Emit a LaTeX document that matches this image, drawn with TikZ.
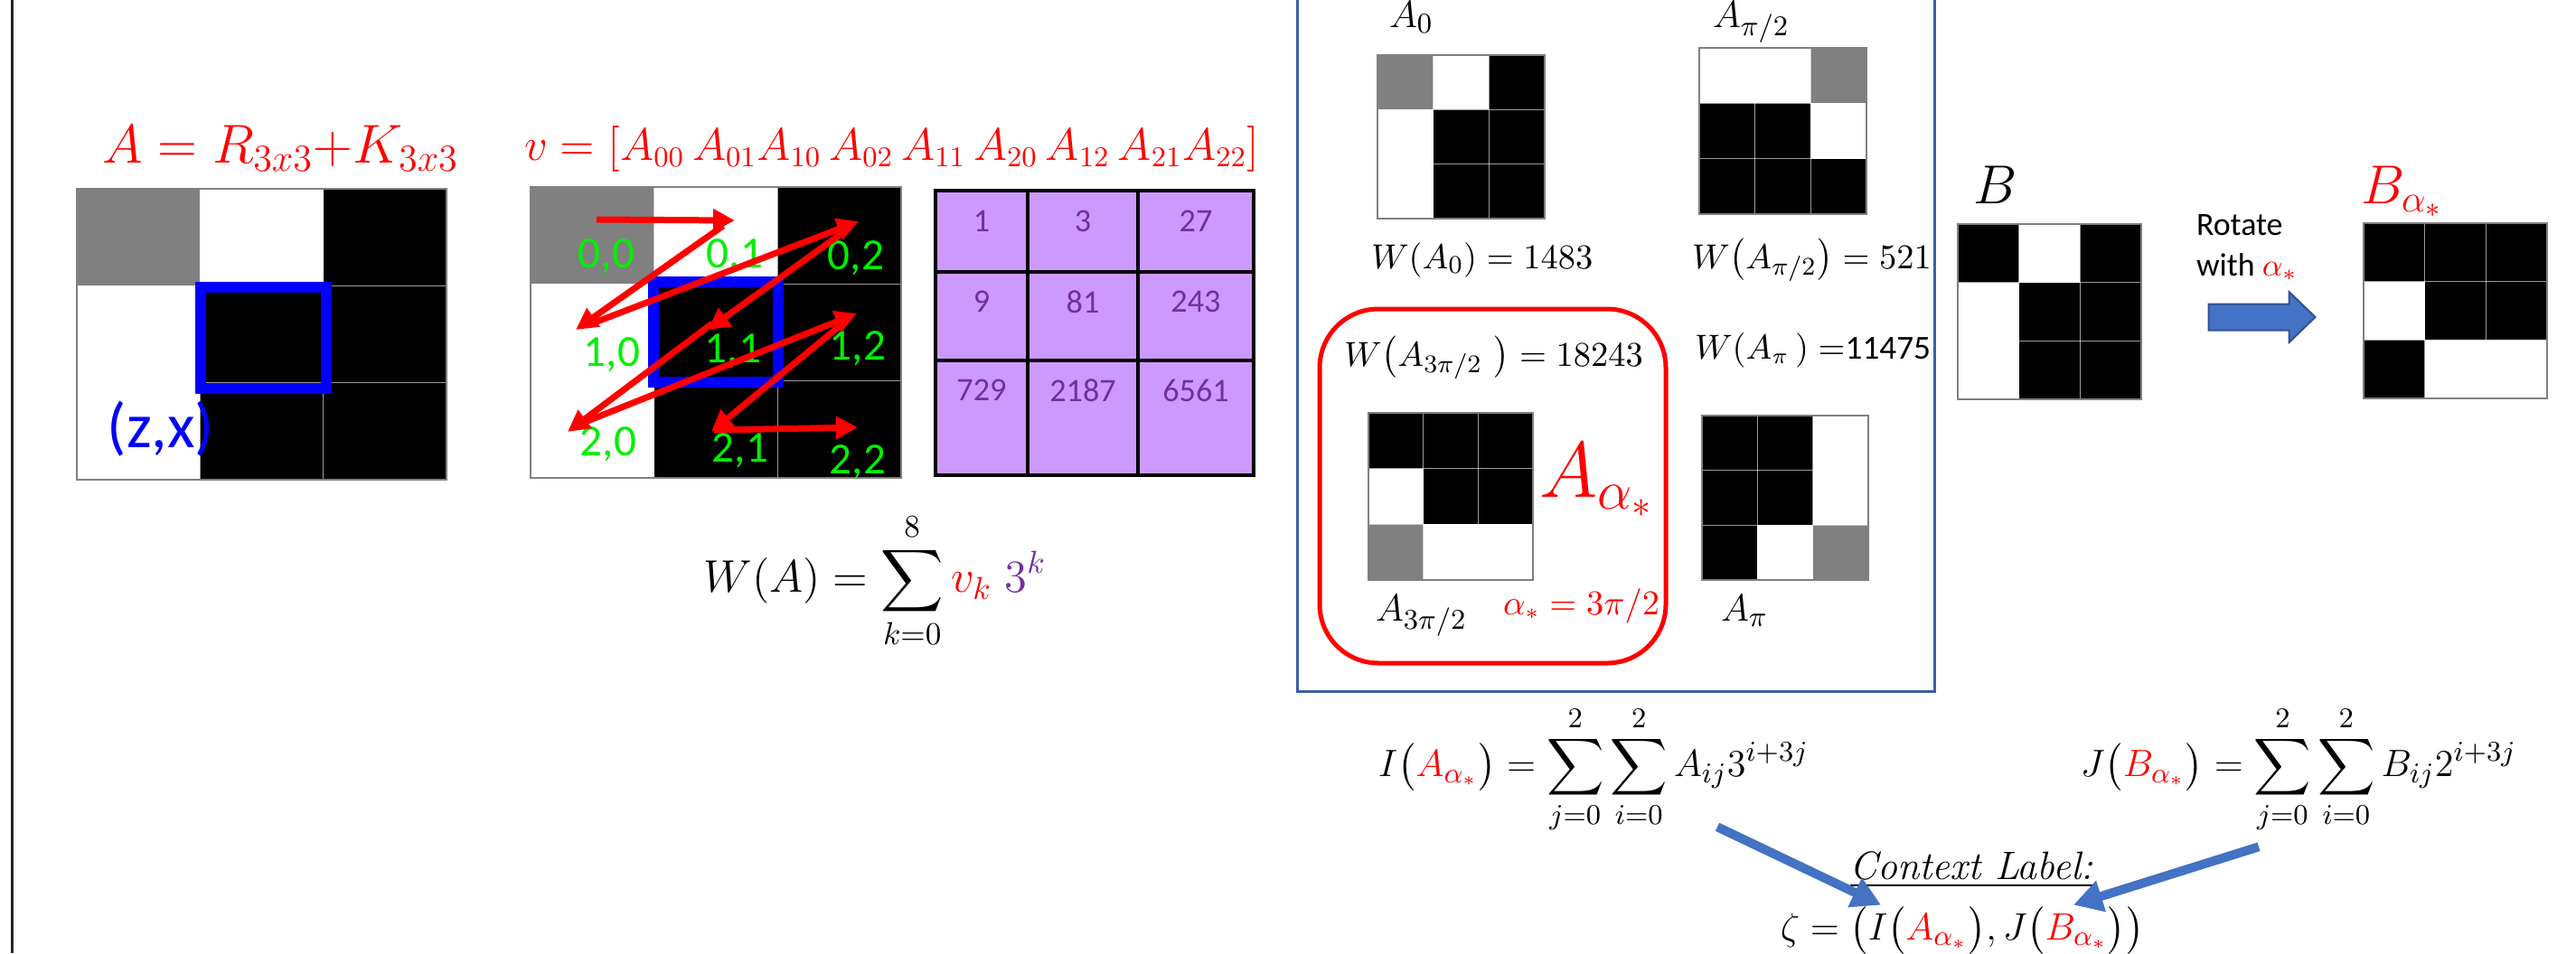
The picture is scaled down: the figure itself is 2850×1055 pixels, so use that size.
\documentclass[tikz,border=0pt]{standalone}
\usepackage{amsmath,amssymb}
\usepackage{fontspec}
\setsansfont{Carlito}
\usetikzlibrary{arrows.meta,calc,shapes.arrows}
\definecolor{zzred}{RGB}{255,0,0}
\definecolor{idxgreen}{RGB}{0,240,0}
\definecolor{selblue}{RGB}{0,0,255}
\definecolor{cellgray}{RGB}{128,128,128}
\definecolor{lilac}{RGB}{204,153,255}
\definecolor{plum}{RGB}{112,48,160}
\definecolor{frameblue}{RGB}{60,95,165}
\definecolor{arrblue}{RGB}{68,114,196}
\definecolor{arrblueedge}{RGB}{47,82,143}
\newcommand{\fsz}[1]{\fontsize{#1}{#1}\selectfont}
% 3x3 pixel image: left, top, width, height, cell colours row by row
\newcommand{\pixgrid}[5]{%
  \foreach \clr [count=\k from 0] in {#5} {
    \pgfmathtruncatemacro{\gc}{mod(\k,3)}
    \pgfmathtruncatemacro{\gr}{\k/3}
    \fill[\clr] ({#1+\gc*#3/3},{#2+\gr*#4/3}) rectangle ++({#3/3},{#4/3});
  }
  \foreach \t in {1,2} {
    \draw[white, opacity=.6, line width=.15mm] ({#1+\t*#3/3},#2) -- ++(0,#4);
    \draw[white, opacity=.6, line width=.15mm] (#1,{#2+\t*#4/3}) -- ++(#3,0);
  }
  \draw[gray, line width=.2mm] (#1,#2) rectangle ++(#3,#4);
}

\begin{document}
\begin{tikzpicture}[x=0.1mm, y=-0.1mm,
	every node/.style={inner sep=0pt, outer sep=0pt},
	zz/.style={zzred, line width=.7mm, -{Triangle[length=2.4mm,width=2.4mm]}},
	flow/.style={arrblue, line width=1mm, -{Triangle[length=3.2mm,width=3.4mm]}},
	idx/.style={idxgreen, font=\sffamily\fsz{14pt}},
	wt/.style={plum, font=\sffamily\fsz{10.3pt}},
	wlab/.style={anchor=base west, font=\fsz{11pt}},
	alab/.style={anchor=base west, font=\fsz{13pt}},
	big/.style={anchor=base west, font=\fsz{18pt}}
	]
	
	\useasboundingbox (0,0) rectangle (2850,1055);
	\fill[white] (0,0) rectangle (2850,1055);
	\draw[line width=.3mm, black!85] (13,0) -- (13,1055);
	
	% the matrix A
	\node[anchor=base west, zzred, font=\fsz{16.5pt}] (titleA) at (113,180) {$A = R_{3x3}{+}K_{3x3}$};
	\pixgrid{85}{209}{409}{322}{cellgray,white,black,white,black,black,white,black,black}
	\draw[selblue, line width=1.2mm] (222,318) rectangle (361,430);
	\node[selblue, font=\sffamily\fsz{20pt}] (zx) at (178,475) {(z,x)};
	
	% scan order
	\node[anchor=base west, zzred, font=\fsz{13.4pt}] (titlev) at (580,177)
		{$v = [A_{00}\,A_{01}A_{10}\,A_{02}\,A_{11}\,A_{20}\,A_{12}\,A_{21}A_{22}]$};
	\pixgrid{587}{207}{410}{322}{cellgray,white,black,white,black,black,white,black,black}
	\draw[selblue, line width=1.2mm] (723,312) rectangle (861,423);
	\foreach \r/\s/\x/\y in {0/0/671/284, 0/1/813/284, 0/2/947/286,
		1/0/677/393, 1/1/811/389, 1/2/949/386,
		2/0/673/492, 2/1/819/499, 2/2/949/512}
		\node[idx] (i\r\s) at (\x,\y) {\r,\s};
	\foreach \n/\x/\y in {a1/660/243, b1/813/244, a2/800/250, b2/637/365,
		a3/650/360, b3/950/245, a4/940/252, b4/783/365,
		a5/788/358, b5/628/478, a6/645/468, b6/948/347,
		a7/936/355, b7/787/478, a8/790/476, b8/949/473}
		\coordinate (\n) at (\x,\y);
	\foreach \k in {1,...,8}
		\draw[zz] (a\k) -- (b\k);
	
	% weights
	\fill[lilac] (1035,211) rectangle (1387,526);
	\draw[line width=.35mm] (1035,211) rectangle (1387,526);
	\foreach \x in {1137,1259}
		\draw[line width=.35mm] (\x,211) -- (\x,526);
	\foreach \y in {301,399}
		\draw[line width=.35mm] (1035,\y) -- (1387,\y);
	\foreach \v/\x/\y in {1/1086/245, 3/1198/245, 27/1323/245,
		9/1086/334, 81/1198/334, 243/1323/334,
		729/1086/432, 2187/1198/432, 6561/1323/432}
		\node[wt] (w\v) at (\x,\y) {\v};
	
	\node[font=\fsz{13.7pt}] (WA) at (968,643)
		{$\displaystyle W(A) = \sum_{k=0}^{8} \textcolor{zzred}{v_k}\; \textcolor{plum}{3^k}$};
	
	% the four rotations
	\draw[frameblue, line width=.3mm] (1435,0) -- (1435,765) -- (2140,765) -- (2140,0);
	\node[alab] (lA0) at (1537,30) {$A_0$};
	\pixgrid{1524}{61}{185}{181}{cellgray,white,black,white,black,black,white,black,black}
	\node[wlab] (wA0) at (1517,297) {$W(A_0) = 1483$};
	\node[alab] (lA1) at (1895,30) {$A_{\pi/2}$};
	\pixgrid{1880}{53}{185}{184}{white,white,cellgray,black,black,white,black,black,black}
	\node[wlab] (wA1) at (1872,297) {$W\bigl(A_{\pi/2}\bigr) = 521$};
	
	\draw[zzred, line width=.5mm, rounded corners=6.5mm] (1460,342) rectangle (1843,734);
	\node[wlab] (wA3) at (1487,405) {$W\bigl(A_{3\pi/2}\ \bigr) = 18243$};
	\pixgrid{1514}{457}{182}{185}{black,black,black,white,black,black,cellgray,white,white}
	\node[anchor=base west, zzred, font=\fsz{23.7pt}] (Astar) at (1703,550) {$A_{\alpha_*}$};
	\node[alab] (lA3) at (1522,687) {$A_{3\pi/2}$};
	\node[anchor=base west, zzred, font=\fsz{10.5pt}] (astar) at (1663,680) {$\alpha_* = 3\pi/2$};
	
	\node[wlab, font=\fsz{10.6pt}] (wA2) at (1875,397) {$W(A_\pi\,) =$\textsf{11475}};
	\pixgrid{1883}{460}{184}{182}{black,black,white,black,black,white,black,white,cellgray}
	\node[alab] (lA2) at (1904,687) {$A_\pi$};
	
	% B and its rotation
	\node[big] (lB) at (2183,225) {$B$};
	\pixgrid{2166}{248}{203}{194}{black,white,black,white,black,black,white,black,black}
	\node[anchor=base west, font=\sffamily\fsz{10.2pt}] (rot1) at (2430,260) {Rotate};
	\node[anchor=base west, font=\sffamily\fsz{10.2pt}] (rot2) at (2430,305) {with \textcolor{zzred}{$\alpha_*$}};
	\node[single arrow, fill=arrblue, draw=arrblueedge, line width=.2mm,
		minimum height=11.8mm, minimum width=5.4mm, inner ysep=1.35mm,
		single arrow head extend=1.35mm, single arrow tip angle=88] (rarr) at (2495,351) {};
	\node[big, zzred] (lBs) at (2612,225) {$B_{\alpha_*}$};
	\pixgrid{2615}{247}{203}{194}{black,black,black,white,black,black,black,white,white}
	
	% context label
	\node[font=\fsz{12.5pt}] (fI) at (1763,852)
		{$\displaystyle I\bigl(\textcolor{zzred}{A_{\alpha_*}}\bigr) = \sum_{j=0}^{2}\sum_{i=0}^{2} A_{ij}3^{i+3j}$};
	\node[font=\fsz{12.5pt}] (fJ) at (2543,852)
		{$\displaystyle J\bigl(\textcolor{zzred}{B_{\alpha_*}}\bigr) = \sum_{j=0}^{2}\sum_{i=0}^{2} B_{ij}2^{i+3j}$};
	\node[anchor=base, font=\fsz{12.5pt}] (ctx) at (2181,973) {\underline{\itshape Context Label:}};
	\node[font=\fsz{12.5pt}] (zeta) at (2171,1030)
		{$\zeta = \bigl(I\bigl(\textcolor{zzred}{A_{\alpha_*}}\bigr),J\bigl(\textcolor{zzred}{B_{\alpha_*}}\bigr)\bigr)$};
	
	\draw[flow] ($(fI.south)+(137,-8)$) -- ($(zeta.north)+(-90,-2)$);
	\draw[flow] ($(fJ.south)+(-44,14)$) -- ($(zeta.north)+(123,-2)$);
	
\end{tikzpicture}
\end{document}
